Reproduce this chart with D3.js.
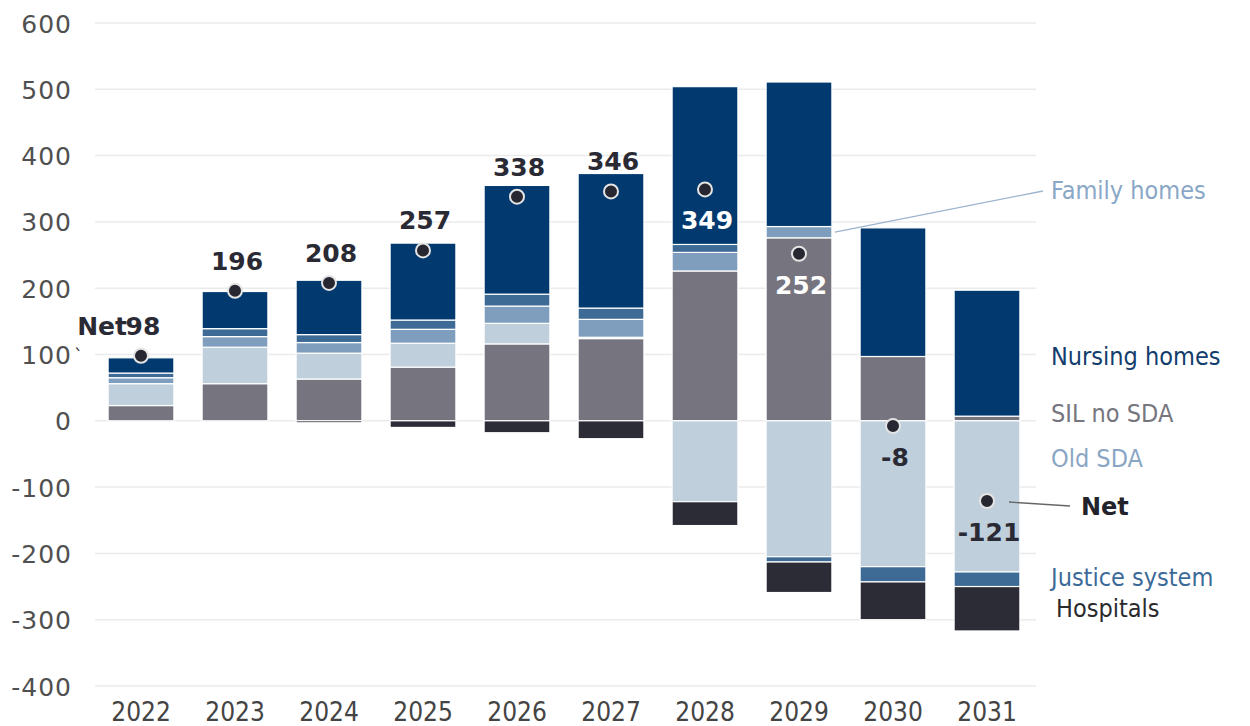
<!DOCTYPE html>
<html>
<head>
<meta charset="utf-8">
<script src="https://cdn.jsdelivr.net/npm/d3@7"></script>
<style>
  body { margin: 0; background: #fff; }
</style>
</head>
<body>
<svg id="chart" width="1250" height="726"></svg>
<script>
// data
var years       = ["2022","2023","2024","2025","2026","2027","2028","2029","2030","2031"];
var silNoSda    = [23, 56, 63, 81, 116, 124, 226, 276, 97, 7];
var oldSda      = [33, 55, 39, 36, 31, 2, -122, -205, -220, -228];
var familyHomes = [9, 16, 16, 21, 26, 27, 28, 17, 0, 0];
var justice     = [7, 12, 12, 14, 18, 17, 12, -8, -23, -22];
var nursing     = [23, 56, 82, 116, 164, 203, 238, 218, 194, 190];
var hospitals   = [0, 0, -3, -10, -18, -27, -36, -46, -57, -67];
var net         = [98, 196, 208, 257, 338, 346, 349, 252, -8, -121];
var yTicks      = [-400, -300, -200, -100, 0, 100, 200, 300, 400, 500, 600];

var keys = ["SIL no SDA", "Old SDA", "Family homes", "Justice system", "Nursing homes", "Hospitals"];
var colors = {
  "SIL no SDA": "#76747f",
  "Old SDA": "#bfcfdc",
  "Family homes": "#7f9ebd",
  "Justice system": "#3e6b96",
  "Nursing homes": "#023a6f",
  "Hospitals": "#2c2c37"
};
var textColors = {
  "Family homes": "#8aa7c7",
  "Nursing homes": "#123d6c",
  "SIL no SDA": "#77767f",
  "Old SDA": "#8aa6c4",
  "Justice system": "#3c6a99",
  "Hospitals": "#2b2b2e"
};

var rows = years.map(function (yr, i) {
  return {
    year: yr,
    "SIL no SDA": silNoSda[i],
    "Old SDA": oldSda[i],
    "Family homes": familyHomes[i],
    "Justice system": justice[i],
    "Nursing homes": nursing[i],
    "Hospitals": hospitals[i],
    net: net[i]
  };
});

var svg = d3.select("#chart");

var x = d3.scaleBand().domain(years).range([94, 1034]).paddingInner(0.3).paddingOuter(0.15);
var y = d3.scaleLinear().domain([-400, 600]).range([686, 23]);

// gridlines
svg.append("g").selectAll("line")
  .data(yTicks).enter().append("line")
  .attr("x1", 95).attr("x2", 1036)
  .attr("y1", function (d) { return y(d); })
  .attr("y2", function (d) { return y(d); })
  .attr("stroke", "#ebebeb").attr("stroke-width", 1.5);

// y axis labels (plain hyphen for negatives, like the original)
var yAxis = d3.axisLeft(y).tickValues(yTicks).tickSize(0).tickPadding(0)
  .tickFormat(function (d) { return String(d); });
svg.append("g")
  .attr("transform", "translate(72,0)")
  .call(yAxis)
  .call(function (g) { g.select(".domain").remove(); })
  .selectAll("text")
    .attr("font-family", "DejaVu Sans")
    .attr("font-size", "25px")
    .attr("letter-spacing", "1px")
    .attr("fill", "#505050")
    .attr("dy", "0.36em");

// x axis labels
var xAxis = d3.axisBottom(x).tickSize(0).tickPadding(0);
svg.append("g")
  .attr("transform", "translate(0,700)")
  .call(xAxis)
  .call(function (g) { g.select(".domain").remove(); })
  .selectAll("text")
    .attr("font-family", "DejaVu Sans Condensed, DejaVu Sans")
    .attr("font-stretch", "condensed")
    .attr("font-size", "26px")
    .attr("fill", "#444")
    .attr("dy", "0.8em");

// stacked bars
var series = d3.stack().keys(keys).offset(d3.stackOffsetDiverging)(rows);

svg.append("g").selectAll("g")
  .data(series).enter().append("g")
    .attr("fill", function (d) { return colors[d.key]; })
  .selectAll("rect")
  .data(function (d) { return d.filter(function (p) { return p[1] !== p[0]; }); })
  .enter().append("rect")
    .attr("x", function (d) { return x(d.data.year); })
    .attr("width", x.bandwidth())
    .attr("y", function (d) { return y(Math.max(d[0], d[1])); })
    .attr("height", function (d) { return Math.abs(y(d[0]) - y(d[1])); })
    .attr("stroke", "#fff").attr("stroke-width", 1.2);

// net dots
var inside = ["2028", "2029", "2030", "2031"];
var onDark = ["2028", "2029"];

svg.append("g").selectAll("circle")
  .data(rows).enter().append("circle")
    .attr("cx", function (d) { return x(d.year) + x.bandwidth() / 2; })
    .attr("cy", function (d) { return y(d.net); })
    .attr("r", 7)
    .attr("fill", "#272732")
    .attr("stroke", "#e4e4e4").attr("stroke-width", 2);

// net labels
svg.append("g").selectAll("text")
  .data(rows).enter().append("text")
    .attr("x", function (d) { return x(d.year) + x.bandwidth() / 2 + 2; })
    .attr("y", function (d) {
      return inside.indexOf(d.year) >= 0 ? y(d.net) + 40 : y(d.net) - 21;
    })
    .attr("text-anchor", "middle")
    .attr("font-family", "DejaVu Sans")
    .attr("font-weight", "bold")
    .attr("font-size", "25px")
    .attr("fill", function (d) { return onDark.indexOf(d.year) >= 0 ? "#fff" : "#2a2a35"; })
    .text(function (d) { return d.net; });

// "Net" prefix on the first label
var first = rows[0];
svg.append("text")
  .attr("x", x(first.year) + x.bandwidth() / 2 - 14)
  .attr("y", y(first.net) - 21)
  .attr("text-anchor", "end")
  .attr("font-family", "DejaVu Sans")
  .attr("font-weight", "bold")
  .attr("font-size", "25px")
  .attr("fill", "#2a2a35")
  .text("Net");
svg.append("text")
  .attr("x", 74).attr("y", 362)
  .attr("font-family", "DejaVu Sans")
  .attr("font-size", "18px")
  .attr("fill", "#333")
  .text("`");

// legend on the right
var legend = [
  { name: "Nursing homes", at: 97 },
  { name: "SIL no SDA", at: 12 },
  { name: "Old SDA", at: -56 },
  { name: "Justice system", at: -236 },
  { name: "Hospitals", at: -283 }
];
svg.append("g").selectAll("text")
  .data(legend).enter().append("text")
    .attr("x", function (d) { return d.name === "Hospitals" ? 1056 : 1051; })
    .attr("y", function (d) { return y(d.at); })
    .attr("dy", "0.36em")
    .attr("font-family", "DejaVu Sans Condensed, DejaVu Sans")
    .attr("font-stretch", "condensed")
    .attr("font-size", "25px")
    .attr("fill", function (d) { return textColors[d.name]; })
    .text(function (d) { return d.name; });

// Family homes callout, pointing at the 2029 stripe
var i29 = years.indexOf("2029");
var fam29 = series[keys.indexOf("Family homes")][i29];
svg.append("line")
  .attr("x1", x("2029") + x.bandwidth() + 3)
  .attr("y1", y((fam29[0] + fam29[1]) / 2))
  .attr("x2", 1043).attr("y2", 191)
  .attr("stroke", "#9db4cd").attr("stroke-width", 1.3);
svg.append("text")
  .attr("x", 1051).attr("y", 190).attr("dy", "0.36em")
  .attr("font-family", "DejaVu Sans Condensed, DejaVu Sans")
  .attr("font-stretch", "condensed")
  .attr("font-size", "25px")
  .attr("fill", textColors["Family homes"])
  .text("Family homes");

// Net callout
var last = rows[rows.length - 1];
svg.append("line")
  .attr("x1", x(last.year) + x.bandwidth() / 2 + 22)
  .attr("y1", y(last.net) + 1)
  .attr("x2", 1070).attr("y2", y(last.net) + 5)
  .attr("stroke", "#666").attr("stroke-width", 1.3);
svg.append("text")
  .attr("x", 1081).attr("y", y(last.net) + 5).attr("dy", "0.36em")
  .attr("font-family", "DejaVu Sans")
  .attr("font-weight", "bold")
  .attr("font-size", "24px")
  .attr("fill", "#22222a")
  .text("Net");
</script>
</body>
</html>
